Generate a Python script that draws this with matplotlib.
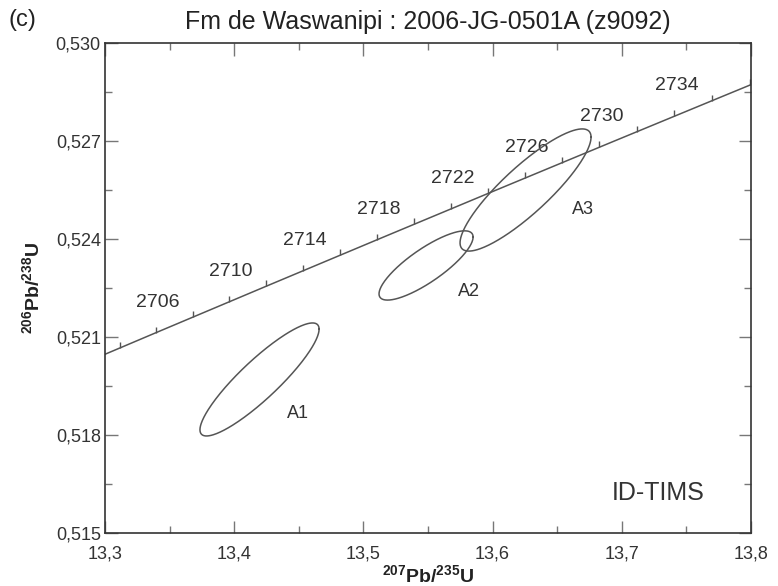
import numpy as np
import matplotlib
matplotlib.use('Agg')
from matplotlib import pyplot as plt
from matplotlib.ticker import FixedLocator, FuncFormatter
from matplotlib.markers import TICKUP

plt.rcParams['font.family'] = ['Liberation Sans', 'DejaVu Sans']
plt.rcParams['mathtext.fontset'] = 'custom'
plt.rcParams['mathtext.rm'] = 'Liberation Sans'
plt.rcParams['mathtext.bf'] = 'Liberation Sans:bold'

# decay constants (1/yr)
lam238 = 1.55125e-10
lam235 = 9.8485e-10

# concordia tick ages (Ma) and labelled ages
tick_ages = [2702, 2704, 2706, 2708, 2710, 2712, 2714, 2716, 2718, 2720,
             2722, 2724, 2726, 2728, 2730, 2732, 2734, 2736]
label_ages = [2706, 2710, 2714, 2718, 2722, 2726, 2730, 2734]

# analyses: 2-sigma ellipses
names = ['A1', 'A2', 'A3']
x_mean = [13.4196, 13.5485, 13.6255]
y_mean = [0.51970, 0.52319, 0.52550]
x_err = [0.0461, 0.0364, 0.0507]
y_err = [0.00173, 0.00106, 0.00187]
rho = [0.89, 0.82, 0.865]
name_x = [13.449, 13.582, 13.670]
name_y = [0.51867, 0.52240, 0.52489]

def conc(t_ma):
    t = np.asarray(t_ma) * 1e6
    return np.exp(lam235 * t) - 1, np.exp(lam238 * t) - 1

fig = plt.figure(figsize=(7.78, 5.86), dpi=100)
ax = fig.add_axes([105/778, 1-533/586, 646/778, 490/586])

# concordia
tt = np.linspace(2698, 2740, 400)
cx, cy = conc(tt)
ax.plot(cx, cy, color='#555555', lw=1.1, zorder=2)
tx, ty = conc(tick_ages)
ax.plot(tx, ty, ls='none', marker=TICKUP, markersize=4.5, mew=1.0, color='#555555', zorder=2)
lx, ly = conc(label_ages)
for a, x, y in zip(label_ages, lx, ly):
    ax.annotate(str(a), (x, y), xytext=(-25.2, 10.8), textcoords='offset points',
                ha='center', va='center', fontsize=14, color='#333333')

# ellipses
th = np.linspace(0, 2*np.pi, 300)
for i in range(len(names)):
    ex = x_mean[i] + x_err[i]*np.cos(th)
    ey = y_mean[i] + y_err[i]*(rho[i]*np.cos(th) + np.sqrt(1-rho[i]**2)*np.sin(th))
    ax.plot(ex, ey, color='#555555', lw=1.1, zorder=3)
    ax.text(name_x[i], name_y[i], names[i], ha='center', va='center', fontsize=13, color='#333333')

ax.set_xlim(13.3, 13.8)
ax.set_ylim(0.515, 0.530)
ax.xaxis.set_major_locator(FixedLocator([13.3, 13.4, 13.5, 13.6, 13.7, 13.8]))
ax.xaxis.set_minor_locator(FixedLocator([13.35, 13.45, 13.55, 13.65, 13.75]))
ax.yaxis.set_major_locator(FixedLocator([0.515, 0.518, 0.521, 0.524, 0.527, 0.530]))
ax.yaxis.set_minor_locator(FixedLocator([0.5165, 0.5195, 0.5225, 0.5255, 0.5285]))
ax.xaxis.set_major_formatter(FuncFormatter(lambda v, p: ('%.1f' % v).replace('.', ',')))
ax.yaxis.set_major_formatter(FuncFormatter(lambda v, p: ('%.3f' % v).replace('.', ',')))
ax.tick_params(which='both', direction='in', top=True, right=True, color='#777777', width=1.0,
               labelsize=13, labelcolor='#333333')
ax.tick_params(which='major', length=9)
ax.tick_params(which='minor', length=5)
ax.tick_params(axis='x', which='major', pad=9)
ax.tick_params(axis='y', which='major', pad=3)
for s in ax.spines.values():
    s.set_color('#333333')
    s.set_linewidth(1.2)

ax.set_xlabel(r'$\mathbf{^{207}Pb/^{235}U}$', fontsize=14, color='#222222', labelpad=1)
ax.set_ylabel(r'$\mathbf{^{206}Pb/^{238}U}$', fontsize=14, color='#222222', labelpad=9)
ax.set_title('Fm de Waswanipi : 2006-JG-0501A (z9092)', fontsize=18, color='#222222', pad=10)
ax.text(0.856, 0.082, 'ID-TIMS', transform=ax.transAxes, ha='center', va='center',
        fontsize=18, color='#333333')
fig.text(8/778, 1-20/586, '(c)', ha='left', va='center', fontsize=17, color='#222222')

fig.savefig('out.png', dpi=100)
